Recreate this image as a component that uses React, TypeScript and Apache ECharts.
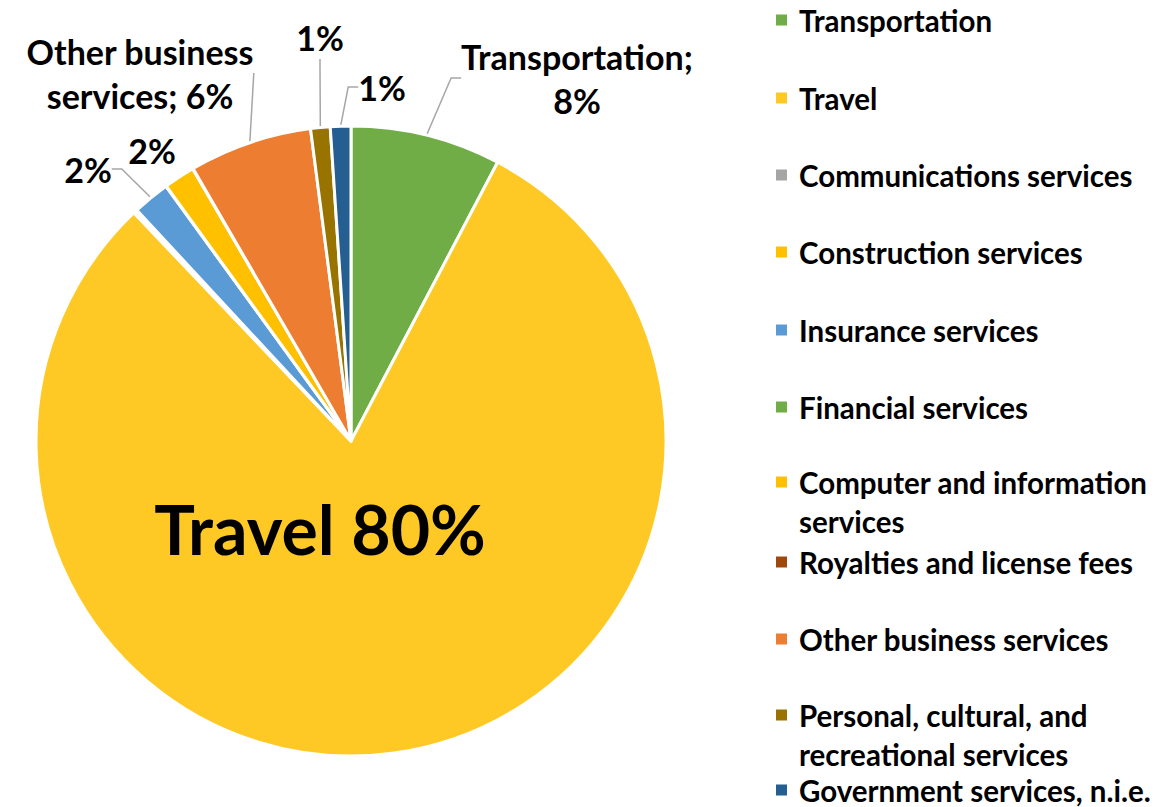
import React, { useEffect, useRef } from "react";
import * as echarts from "echarts";

const categories = [
  "Transportation",
  "Travel",
  "Communications services",
  "Construction services",
  "Insurance services",
  "Financial services",
  "Computer and information services",
  "Royalties and license fees",
  "Other business services",
  "Personal, cultural, and recreational services",
  "Government services, n.i.e.",
];
const shares = [7.7, 80.1, 0.15, 0.05, 1.9, 0.02, 1.6, 0.02, 6.3, 1.0, 1.05];
const colors = [
  "#70AD47", "#FFC925", "#A5A5A5", "#FFC000", "#5B9BD5", "#70AD47",
  "#FFC000", "#9E480E", "#ED7D31", "#997300", "#255E91",
];
// legend display text (line breaks as in the reference)
const legendTexts = [
  "Transportation",
  "Travel",
  "Communications services",
  "Construction services",
  "Insurance services",
  "Financial services",
  "Computer and information\nservices",
  "Royalties and license fees",
  "Other business services",
  "Personal, cultural, and\nrecreational services",
  "Government services, n.i.e.",
];
// which slices carry a label and what format
const labelKinds = ["nameSemi", "inside", "", "", "pct", "", "pctNoLine", "", "nameSemi2", "pct", "pct"];

const FONT = "Lato";

export default function App() {
  const ref = useRef<HTMLDivElement>(null);
  useEffect(() => {
    document.body.style.margin = "0";
    const chart = echarts.init(ref.current!, null, { renderer: "svg" });
    const total = shares.reduce((a, b) => a + b, 0);

    const labelPos: Record<number, { x: number; y: number }> = {
      0: { x: 577, y: 78 },
      1: { x: 320, y: 528 },
      4: { x: 88, y: 169 },
      6: { x: 152, y: 150 },
      8: { x: 140, y: 73 },
      9: { x: 320, y: 37 },
      10: { x: 382, y: 87 },
    };

    const legendCY = [20, 98, 175, 252, 330, 407, 484, 562, 639, 717, 790];
    const legends = categories.map((name, i) => {
      const two = legendTexts[i].includes("\n");
      return {
        show: true,
        data: [name],
        orient: "vertical",
        left: 774,
        top: two ? legendCY[i] - 60.5 : legendCY[i] - 15,
        padding: 0,
        itemWidth: 13,
        itemHeight: 13,
        icon: "rect",
        selectedMode: false,
        formatter: () => (two ? "\n" + legendTexts[i] : legendTexts[i]),
        textStyle: {
          fontFamily: FONT,
          fontWeight: "bold",
          fontSize: 29.5,
          color: "#000",
          lineHeight: two ? 39 : 26,
          padding: [0, 0, 0, 6],
        },
      };
    });

    const data = categories.map((name, i) => {
      const kind = labelKinds[i];
      const pct = Math.round((shares[i] / total) * 100);
      const item: any = { name, value: shares[i], itemStyle: { color: colors[i] } };
      if (!kind) {
        item.label = { show: false };
        item.labelLine = { show: false };
      } else if (kind === "inside") {
        item.label = {
          show: true,
          position: "inside",
          formatter: `${name} ${pct}%`,
          fontSize: 68,
          fontWeight: "bold",
          fontFamily: FONT,
          color: "#000",
        };
        item.labelLine = { show: false };
      } else if (kind === "nameSemi") {
        item.label = { formatter: `${name};\n${pct}%` };
      } else if (kind === "nameSemi2") {
        item.label = { formatter: `Other business\nservices; ${pct}%` };
      } else if (kind === "pctNoLine") {
        item.label = { formatter: `${pct}%` };
        item.labelLine = { show: false };
      } else {
        item.label = { formatter: `${pct}%` };
      }
      return item;
    });

    chart.setOption({
      animation: false,
      legend: legends,
      series: [
        {
          type: "pie",
          center: [351, 441],
          radius: [0, 315],
          startAngle: 90,
          clockwise: true,
          avoidLabelOverlap: false,
          itemStyle: { borderColor: "#fff", borderWidth: 3 },
          label: {
            show: true,
            position: "outside",
            fontFamily: FONT,
            fontWeight: "bold",
            fontSize: 34,
            lineHeight: 44,
            color: "#000",
            align: "center",
          },
          labelLine: {
            show: true,
            length: 20,
            length2: 10,
            lineStyle: { color: "#A6A6A6", width: 1.5 },
          },
          labelLayout: (params: any) => {
            const p = labelPos[params.dataIndex];
            if (!p) return {};
            return { x: p.x, y: p.y, align: "center", verticalAlign: "middle", moveOverlap: false };
          },
          emphasis: { disabled: true },
          data,
        },
      ],
    });
    return () => chart.dispose();
  }, []);
  return <div ref={ref} style={{ width: 1170, height: 807 }} />;
}
